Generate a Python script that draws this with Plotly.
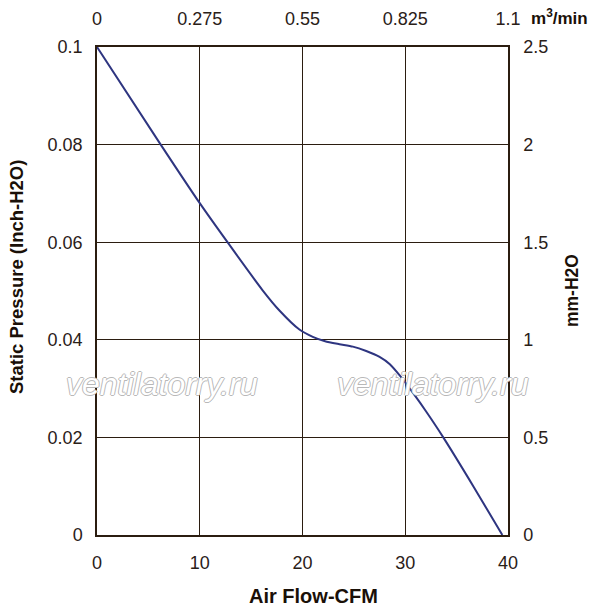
import plotly.graph_objects as go

# Data
cfm = [0, 6.2, 10, 12.7, 16.1, 17.8, 19.7, 21.0, 22.2, 23.6, 24.9, 26.2, 27.5, 28.5,
       29.5, 31.0, 32.0, 33.7, 36.65, 39.45]
pressure = [0.1, 0.08, 0.068, 0.06, 0.0502, 0.0459, 0.0421, 0.0406, 0.0397, 0.0391, 0.0386,
            0.0377, 0.0365, 0.0350, 0.0326, 0.0284, 0.0254, 0.020, 0.0099, 0.0]

bottom_ticks = [0, 10, 20, 30, 40]
left_ticks = [0, 0.02, 0.04, 0.06, 0.08, 0.1]
top_tickvals = [0, 0.275, 0.55, 0.825, 1.1]
top_ticktext = ["0", "0.275", "0.55", "0.825", "1.1"]
right_tickvals = [0, 0.5, 1, 1.5, 2, 2.5]
right_ticktext = ["0", "0.5", "1", "1.5", "2", "2.5"]

GRID = "#2b1d10"
TXT = "#2a2018"
TITLE = "#1a1008"
FONT = "Liberation Sans, Arial, sans-serif"

# page body has an 8px default margin: figure is shifted by OFF in the screenshot
OFF = 8
W, H = 597 - OFF, 606 - OFF
L, T = 97 - OFF, 47 - OFF
PW, PH = 411, 488
R, B = W - L - PW, H - T - PH


def px(xp):
    return (xp - OFF - L) / PW


def py(yp):
    return (T + PH - (yp - OFF)) / PH


fig = go.Figure()
fig.add_trace(go.Scatter(
    x=cfm, y=pressure, mode="lines",
    line=dict(color="#2e3580", width=2, shape="spline", smoothing=0.6),
    showlegend=False, hoverinfo="skip",
))

axis_common = dict(showline=True, linecolor=GRID, linewidth=1.5, ticks="", automargin=False,
                   tickfont=dict(family=FONT, size=18, color=TXT), zeroline=False)

fig.update_layout(
    width=W, height=H,
    margin=dict(l=L, r=R, t=T, b=B),
    paper_bgcolor="white", plot_bgcolor="white",
    font=dict(family=FONT, color=TXT),
    xaxis=dict(range=[0, 40], tickvals=bottom_ticks, showgrid=True, gridcolor=GRID,
               gridwidth=1.3, ticklabelstandoff=11, **axis_common),
    yaxis=dict(range=[0, 0.1], tickvals=left_ticks, showgrid=True, gridcolor=GRID,
               gridwidth=1.3, ticklabelstandoff=9, **axis_common),
    xaxis2=dict(range=[0, 1.1], tickvals=top_tickvals, ticktext=top_ticktext, overlaying="x",
                side="top", showgrid=False, ticklabelstandoff=13, **axis_common),
    yaxis2=dict(range=[0, 2.5], tickvals=right_tickvals, ticktext=right_ticktext, overlaying="y",
                side="right", showgrid=False, ticklabelstandoff=10, **axis_common),
)

# Same curve in secondary units (m^3/min, mm-H2O) to anchor the top and right axes
fig.add_trace(go.Scatter(
    x=[v * 1.1 / 40 for v in cfm], y=[p * 25 for p in pressure],
    xaxis="x2", yaxis="y2", mode="lines", line=dict(width=0), opacity=0,
    showlegend=False, hoverinfo="skip",
))

# Axis titles
fig.add_annotation(text="<b>Air Flow-CFM</b>", xref="paper", yref="paper",
                   x=px(313), y=py(596), xanchor="center", yanchor="middle", showarrow=False,
                   font=dict(family=FONT, size=20, color=TITLE))
fig.add_annotation(text="<b>Static Pressure (Inch-H2O)</b>", xref="paper", yref="paper",
                   x=px(16), y=py(277), xanchor="center", yanchor="middle", showarrow=False,
                   textangle=-90, font=dict(family=FONT, size=18.5, color=TITLE))
fig.add_annotation(text="<b>mm-H2O</b>", xref="paper", yref="paper",
                   x=px(572), y=py(291), xanchor="center", yanchor="middle", showarrow=False,
                   textangle=-90, font=dict(family=FONT, size=17.5, color=TITLE))
fig.add_annotation(text="<b>m<sup>3</sup>/min</b>", xref="paper", yref="paper",
                   x=px(529), y=py(17), xanchor="left", yanchor="middle", showarrow=False,
                   font=dict(family=FONT, size=17, color=TITLE))

# Watermark
wm_shadow = "-1px 0 #b8b8b8, 1px 0 #b8b8b8, 0 -1px #b8b8b8, 0 1px #b8b8b8"
for xc in [162, 433]:
    fig.add_annotation(text="<i>ventilatorry.ru</i>", xref="paper", yref="paper",
                       x=px(xc), y=py(384),
                       xanchor="center", yanchor="middle", showarrow=False,
                       font=dict(family=FONT, size=32, color="white", shadow=wm_shadow))

fig.write_html("out.html")
